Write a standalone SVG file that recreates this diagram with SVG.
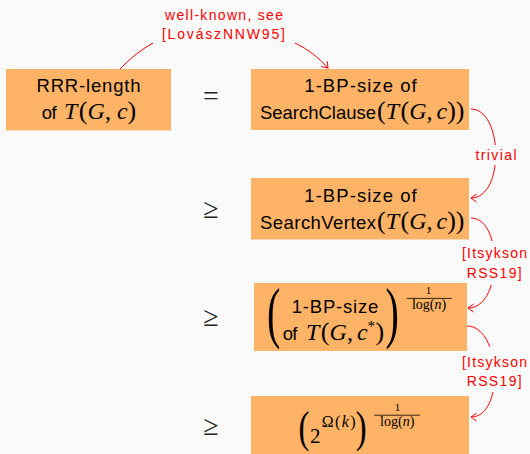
<svg xmlns="http://www.w3.org/2000/svg" width="530" height="454" viewBox="0 0 530 454">
  <style>
    .box { fill: #ffb366; }
    .sans { font-family: "Liberation Sans", Arial, sans-serif; font-size: 18.5px; fill: #000; }
    .math { font-family: "Liberation Serif", "Times New Roman", serif; font-size: 24px; fill: #000; }
    .it { font-style: italic; }
    .p { font-size: 26px; }
    .rel { font-family: "Liberation Serif", "Times New Roman", serif; font-size: 28px; fill: #222; }
    .lbl { font-family: "Liberation Sans", Arial, sans-serif; font-size: 14px; fill: #ff0000; }
    .edge { fill: none; stroke: #ff0000; stroke-width: 1; }
    .gap { fill: #fafafa; }
  </style>
  <defs>
    <marker id="to" markerUnits="userSpaceOnUse" markerWidth="12" markerHeight="12" viewBox="-7 -6 8 12" refX="0" refY="0" orient="auto">
      <path d="M-5.5,-4 Q-1.5,-1 0,0 Q-1.5,1 -5.5,4" fill="none" stroke="#ff0000" stroke-width="1"/>
    </marker>
  </defs>

  <rect width="530" height="454" fill="#fafafa"/>

  <!-- connectors with their labels -->
  <g id="connectors">
    <path class="edge" d="M120,69 Q135,53 153,43"/>
    <path class="edge" d="M295,43 Q314,52 328,68" marker-end="url(#to)"/>
    <text class="lbl" x="224" y="19.5" text-anchor="middle" textLength="118">well-known, see</text>
    <text class="lbl" x="223.4" y="39" text-anchor="middle" textLength="123">[LovászNNW95]</text>

    <path class="edge" d="M471,109 C503,109 505,198 471,198" marker-end="url(#to)"/>
    <rect class="gap" x="478" y="145" width="34" height="20"/>
    <text class="lbl" x="496" y="160" text-anchor="middle" textLength="41">trivial</text>

    <path class="edge" d="M471,218 C503,218 503,308 468,308" marker-end="url(#to)"/>
    <rect class="gap" x="478" y="241" width="32" height="44"/>
    <text class="lbl" x="494.5" y="258" text-anchor="middle" textLength="65">[Itsykson</text>
    <text class="lbl" x="494.2" y="278" text-anchor="middle" textLength="55">RSS19]</text>

    <path class="edge" d="M467,326 C501,326 505,417 471,417" marker-end="url(#to)"/>
    <rect class="gap" x="478" y="347" width="32" height="45"/>
    <text class="lbl" x="494.5" y="367" text-anchor="middle" textLength="65">[Itsykson</text>
    <text class="lbl" x="494.2" y="386" text-anchor="middle" textLength="55">RSS19]</text>
  </g>

  <!-- relation symbols between the columns -->
  <g id="relations">
    <text class="rel" x="211" y="105" text-anchor="middle">=</text>
    <text class="rel" x="211" y="218" text-anchor="middle">≥</text>
    <text class="rel" x="211" y="326" text-anchor="middle">≥</text>
    <text class="rel" x="211" y="435" text-anchor="middle">≥</text>
  </g>

  <g id="rrr-length">
    <rect class="box" x="6" y="69" width="165" height="61.5"/>
    <text class="sans" x="88.5" y="92" text-anchor="middle" textLength="104">RRR-length</text>
    <text class="sans" x="41.7" y="119" textLength="15">of</text>
    <text class="math" x="64" y="119"><tspan class="it">T</tspan><tspan class="p" dx="1.5">(</tspan><tspan class="it">G</tspan>, <tspan class="it">c</tspan><tspan class="p">)</tspan></text>
  </g>

  <g id="search-clause">
    <rect class="box" x="251" y="69" width="218" height="61"/>
    <text class="sans" x="304.3" y="92" textLength="112.4">1-BP-size of</text>
    <text class="sans" x="260" y="119" textLength="116">SearchClause</text>
    <text class="math" x="377" y="119"><tspan class="p">(</tspan><tspan class="it">T</tspan><tspan class="p" dx="1.5">(</tspan><tspan class="it">G</tspan>,<tspan class="it" dx="4">c</tspan><tspan class="p">))</tspan></text>
  </g>

  <g id="search-vertex">
    <rect class="box" x="251" y="178" width="218" height="61.5"/>
    <text class="sans" x="304.3" y="202" textLength="112.4">1-BP-size of</text>
    <text class="sans" x="260" y="229" textLength="116">SearchVertex</text>
    <text class="math" x="377" y="229"><tspan class="p">(</tspan><tspan class="it">T</tspan><tspan class="p" dx="1.5">(</tspan><tspan class="it">G</tspan>,<tspan class="it" dx="4">c</tspan><tspan class="p">))</tspan></text>
  </g>

  <g id="bp-size-root">
    <rect class="box" x="254" y="283" width="213" height="68"/>
    <text class="math" style="font-size:66.8px" transform="translate(267,335.2) scale(0.6,1)">(</text>
    <text class="sans" x="291.7" y="312.7" textLength="86.6">1-BP-size</text>
    <text class="sans" x="282.7" y="340" textLength="14.6">of</text>
    <text class="math" x="306" y="340"><tspan class="it">T</tspan><tspan class="p" dx="1.5">(</tspan><tspan class="it">G</tspan>,<tspan class="it" dx="4">c</tspan><tspan dy="-9" style="font-size:15px">*</tspan><tspan class="p" dy="9" dx="0.5">)</tspan></text>
    <text class="math" style="font-size:66.8px" transform="translate(385.5,335.2) scale(0.6,1)">)</text>
    <text class="math" x="428.5" y="294" text-anchor="middle" style="font-size:11px">1</text>
    <line x1="406.7" y1="298.4" x2="451.7" y2="298.4" stroke="#000" stroke-width="0.8"/>
    <text class="math" x="429" y="309" text-anchor="middle" style="font-size:14px">log(<tspan class="it">n</tspan>)</text>
  </g>

  <g id="exponential">
    <rect class="box" x="251" y="396" width="218" height="61"/>
    <text class="math" style="font-size:43.4px" transform="translate(298.4,442.3) scale(0.75,1)">(</text>
    <text class="math" x="310" y="443.3" style="font-size:21px">2</text>
    <text class="math" x="321.7" y="426.7" textLength="34" style="font-size:16px">Ω(<tspan class="it">k</tspan>)</text>
    <text class="math" style="font-size:43.4px" transform="translate(355.8,442.3) scale(0.75,1)">)</text>
    <text class="math" x="397.5" y="411" text-anchor="middle" style="font-size:11px">1</text>
    <line x1="374.3" y1="415.2" x2="420" y2="415.2" stroke="#000" stroke-width="0.8"/>
    <text class="math" x="397.2" y="425.5" text-anchor="middle" style="font-size:14px">log(<tspan class="it">n</tspan>)</text>
  </g>
</svg>
